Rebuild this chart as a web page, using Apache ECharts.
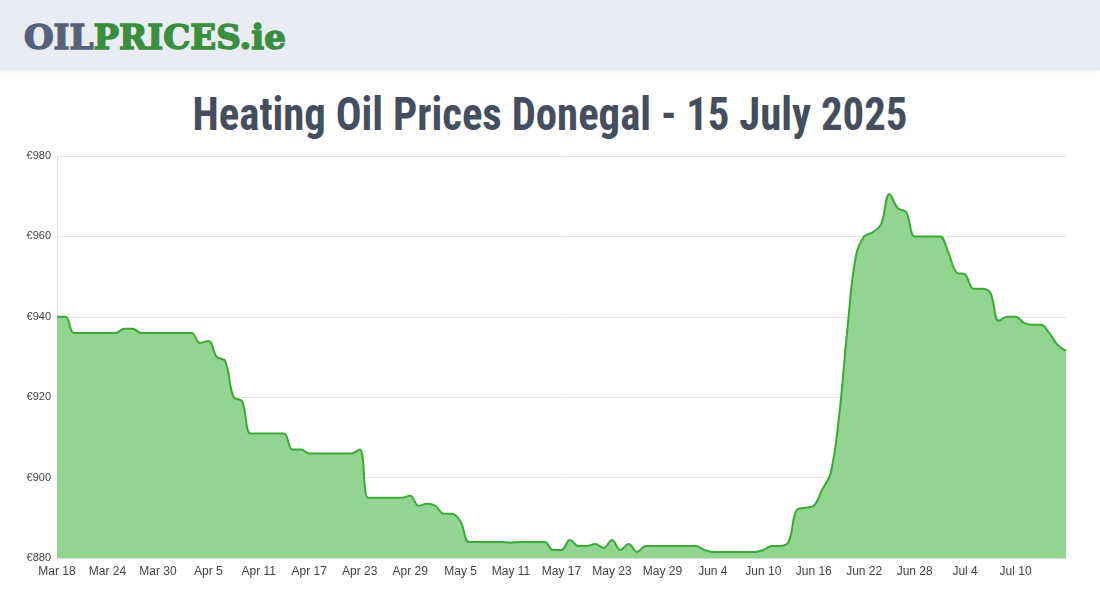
<!DOCTYPE html>
<html><head><meta charset="utf-8">
<script src="https://cdn.jsdelivr.net/npm/echarts@6/dist/echarts.min.js"></script>
<style>
body{margin:0;width:1100px;height:600px;background:#fff;overflow:hidden;font-family:"Liberation Sans",Arial,sans-serif}
#hdr{position:absolute;left:0;top:0;width:1100px;height:70px;background:#e9ecf3;box-shadow:0 1px 4px rgba(0,0,0,0.08)}
#logo{position:absolute;left:24px;top:17px;font-family:"DejaVu Serif",serif;font-weight:900;font-size:34px;letter-spacing:0px;line-height:40px;-webkit-text-stroke:1.5px currentColor}
#title{position:absolute;left:0;top:86px;width:1100px;text-align:center;font-family:"Liberation Sans Narrow","Roboto Condensed","DejaVu Sans Condensed",sans-serif;font-size:47px;color:#454e5e;font-weight:bold;transform:scaleX(0.91)}
#c{position:absolute;left:0;top:140px;width:1100px;height:460px}
</style></head><body>
<div id="hdr"><div id="logo"><span style="color:#56627a">OIL</span><span style="color:#3a8f3e">PRICES.ie</span></div></div>
<div id="title">Heating Oil Prices Donegal - 15 July 2025</div>
<div id="c"></div>
<script>
const startDate = [2025, 3, 18];
const prices = [940,940,936,936,936,936,936,936,937,937,936,936,936,936,936,936,936,933.5,934,930,929,920,919,911,911,911,911,911,907,907,906,906,906,906,906,906,907,895,895,895,895,895,895.5,893,893.5,893,891,891,889,884,884,884,884,884,883.8,884,884,884,884,882,882,884.5,883,883,883.5,882.5,884.5,882,883.5,881.5,883,883,883,883,883,883,883,882,881.5,881.5,881.5,881.5,881.5,881.5,882,883,883,884,892,892.5,893,897,901,915,937,955,960,961,963,970.5,967,966,960,960,960,960,956,951,950.5,947,947,946,939,940,940,938.5,938,938,936,933,931.5];
const months=["Jan","Feb","Mar","Apr","May","Jun","Jul","Aug","Sep","Oct","Nov","Dec"];
const dates = prices.map((_,i)=>{const d=new Date(Date.UTC(startDate[0],startDate[1]-1,startDate[2]+i));return months[d.getUTCMonth()]+" "+d.getUTCDate();});
const ch = echarts.init(document.getElementById('c'));
ch.setOption({
 animation:false,
 grid:{left:57,right:34,top:16,bottom:42},
 xAxis:{type:'category',data:dates,boundaryGap:false,
  axisLine:{lineStyle:{color:'#ddd'}},axisTick:{show:false},
  axisLabel:{interval:(i)=>i%6===0 && i<dates.length-3,color:'#444',fontSize:12,margin:8},splitLine:{show:false}},
 yAxis:{type:'value',min:880,max:980,interval:20,
  axisLine:{show:true,lineStyle:{color:'#ddd'}},
  axisLabel:{formatter:'€{value}',color:'#444',fontSize:11,margin:6},
  splitLine:{lineStyle:{color:'#e4e4e4'}}},
 series:[{type:'line',data:prices,smooth:0.4,symbol:'none',
  lineStyle:{color:'#3aaa35',width:2},areaStyle:{color:'#92d590',opacity:1}}]
});
</script></body></html>
